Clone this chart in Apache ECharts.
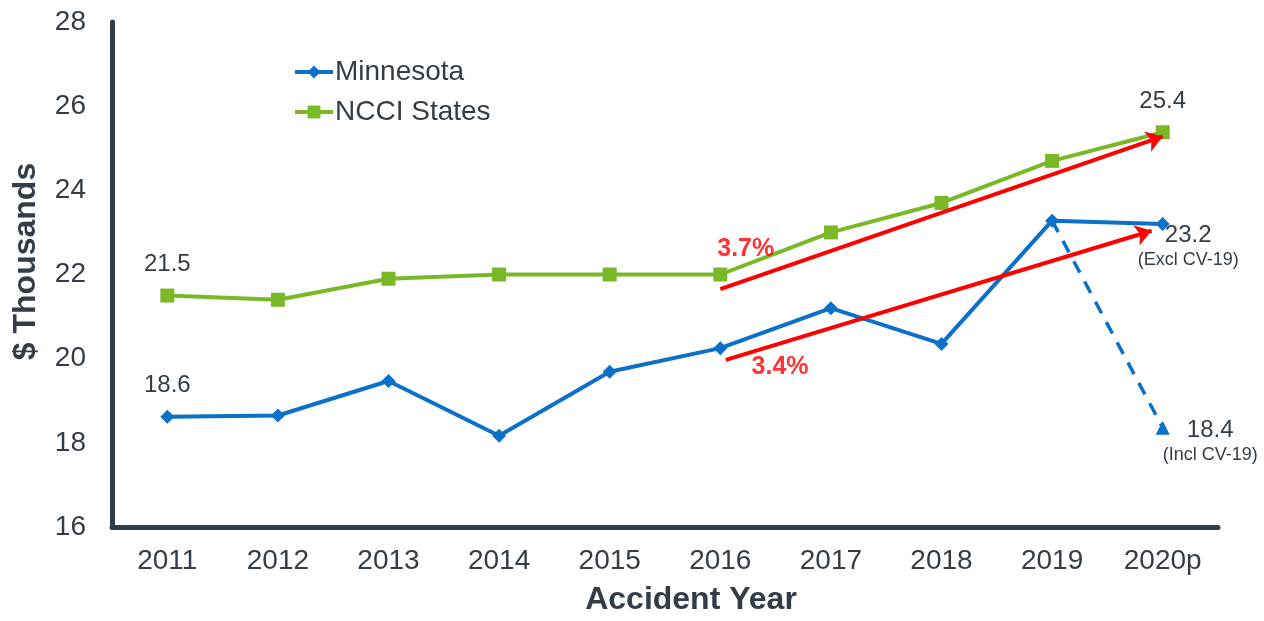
<!DOCTYPE html>
<html>
<head>
<meta charset="utf-8">
<script src="https://cdn.jsdelivr.net/npm/echarts@6/dist/echarts.min.js"></script>
<style>
html,body{margin:0;padding:0;background:#fff;}
#chart{width:1264px;height:621px;}
</style>
</head>
<body>
<div id="chart"></div>
<script>
let years = ['2011','2012','2013','2014','2015','2016','2017','2018','2019','2020p'];
let minnesota = [18.62, 18.65, 19.47, 18.17, 19.69, 20.25, 21.2, 20.35, 23.28, 23.2];
let ncci = [21.5, 21.4, 21.9, 22.0, 22.0, 22.0, 23.0, 23.7, 24.7, 25.38];
// Incl CV-19 drop from 2019 to 2020p
let covidLine = [[8, 23.28], [9, 18.36]];
// red trend arrows [x index, value]
let trendNcci = [[5, 21.65], [9, 25.28]];
let trendMinn = [[5.05, 19.97], [8.9, 23.04]];
let trendLabels = [
	{ value: [5.23, 22.61], text: '3.7%' },
	{ value: [5.54, 19.8], text: '3.4%' }
];

let txt = '#333d47';
let blue = '#0a70c8';
let green = '#79b928';
let red = '#ff0000';

let chart = echarts.init(document.getElementById('chart'));

let richText = {
	a: { fontSize: 24, color: txt, lineHeight: 27, align: 'center' },
	b: { fontSize: 18, color: txt, lineHeight: 23, align: 'center' }
};

function minnData(){
	return minnesota.map(function(v, i){
		if(i == 0){
			return { value: v, label: { show: true, position: 'top', distance: 12, formatter: '18.6' } };
		}
		if(i == years.length - 1){
			return { value: v, label: { show: true, position: 'right', distance: 0, formatter: '{a|23.2}\n{b|(Excl CV-19)}', offset: [-32, 23], rich: richText } };
		}
		return v;
	});
}

function ncciData(){
	return ncci.map(function(v, i){
		if(i == 0){
			return { value: v, label: { show: true, position: 'top', distance: 12, formatter: '21.5' } };
		}
		if(i == years.length - 1){
			return { value: v, label: { show: true, position: 'top', distance: 12, formatter: '25.4' } };
		}
		return v;
	});
}

option = {
	animation: false,
	textStyle: { fontFamily: 'Arial, "Liberation Sans", sans-serif' },
	grid: { left: 112, right: 46, top: 22, bottom: 91 },
	legend: {
		orient: 'vertical',
		left: 288,
		top: 53,
		itemGap: 12,
		itemWidth: 38,
		itemHeight: 16,
		data: ['Minnesota', 'NCCI States'],
		lineStyle: { width: 4 },
		textStyle: { fontSize: 28, color: txt, padding: [0, 0, 0, -3] }
	},
	xAxis: [
		{
			type: 'category',
			data: years,
			boundaryGap: true,
			name: 'Accident Year',
			nameLocation: 'middle',
			nameGap: 57,
			nameTextStyle: { fontSize: 32, fontWeight: 'bold', color: txt, padding: [0, 0, 0, 52] },
			axisLine: { lineStyle: { color: txt, width: 5 } },
			axisTick: { show: false },
			axisLabel: { fontSize: 28, color: txt, margin: 20 }
		},
		{
			type: 'value',
			min: -0.5,
			max: 9.5,
			show: false
		}
	],
	yAxis: {
		type: 'value',
		min: 16,
		max: 28,
		interval: 2,
		name: '$ Thousands',
		nameLocation: 'middle',
		nameGap: 70,
		nameTextStyle: { fontSize: 32, fontWeight: 'bold', color: txt, padding: [0, 0, 0, 26] },
		axisLine: { show: true, onZero: false, lineStyle: { color: txt, width: 5 } },
		axisTick: { show: false },
		splitLine: { show: false },
		axisLabel: { fontSize: 28, color: txt, margin: 26 }
	},
	series: [
		{
			name: 'Minnesota',
			type: 'line',
			data: minnData(),
			symbol: 'diamond',
			symbolSize: 14,
			color: blue,
			lineStyle: { width: 4, color: blue },
			itemStyle: { color: blue },
			label: { color: txt, fontSize: 24 },
			z: 3
		},
		{
			name: 'NCCI States',
			type: 'line',
			data: ncciData(),
			symbol: 'rect',
			symbolSize: 14,
			color: green,
			lineStyle: { width: 4, color: green },
			itemStyle: { color: green },
			label: { color: txt, fontSize: 24 },
			z: 3
		},
		{
			name: 'covid',
			type: 'line',
			xAxisIndex: 1,
			data: [
				{ value: covidLine[0], symbol: 'none' },
				{ value: covidLine[1], symbol: 'triangle', symbolSize: 14,
					label: { show: true, position: 'right', distance: 0, offset: [-7, 14], formatter: '{a|18.4}\n{b|(Incl CV-19)}', rich: richText } }
			],
			lineStyle: { width: 3.5, color: blue, type: [13, 10] },
			itemStyle: { color: blue },
			z: 2
		},
		{
			name: 'trend',
			type: 'line',
			xAxisIndex: 1,
			data: [],
			symbol: 'none',
			markLine: {
				silent: true,
				symbol: ['none', 'arrow'],
				symbolSize: 16,
				label: { show: false },
				lineStyle: { color: red, width: 4, type: 'solid' },
				data: [
					[{ coord: trendNcci[0] }, { coord: trendNcci[1] }],
					[{ coord: trendMinn[0] }, { coord: trendMinn[1] }]
				]
			},
			z: 4
		},
		{
			name: 'trendText',
			type: 'scatter',
			xAxisIndex: 1,
			symbolSize: 0,
			data: trendLabels.map(function(d){ return { value: d.value, name: d.text }; }),
			label: {
				show: true,
				position: 'inside',
				formatter: function(p){ return p.name; },
				color: red,
				fontSize: 25,
				fontWeight: 'bold'
			},
			z: 5
		}
	]
};

chart.setOption(option);
</script>
</body>
</html>
